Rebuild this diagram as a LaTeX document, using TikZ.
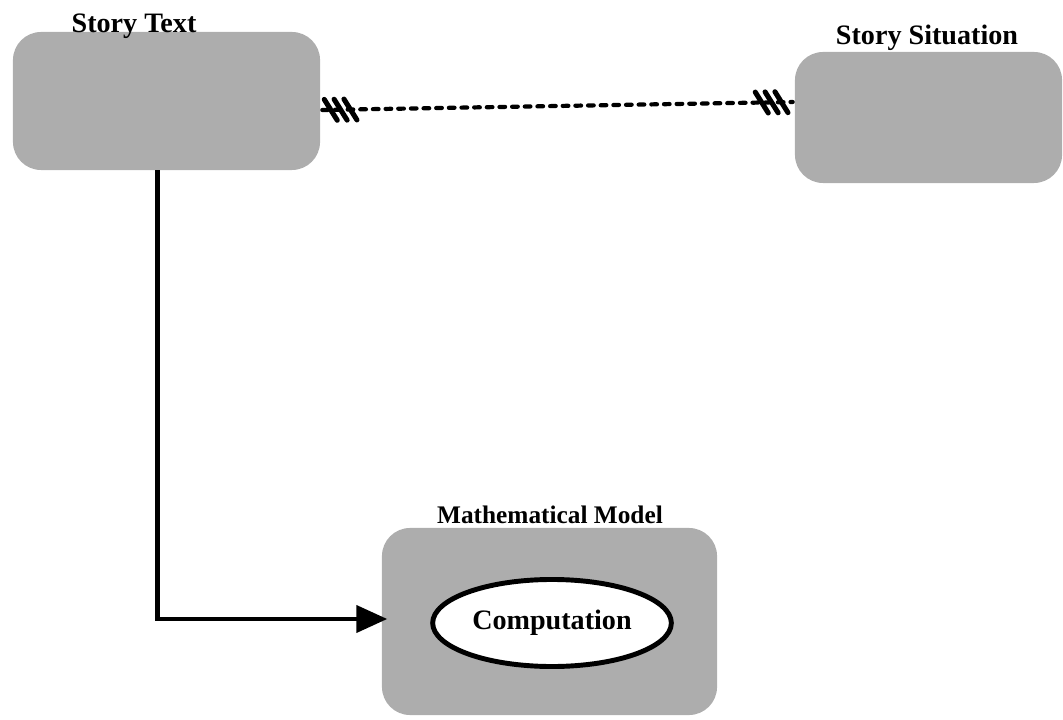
\documentclass[tikz,border=0pt]{standalone}
\usepackage{fontspec}
\setmainfont{Liberation Serif}
\usetikzlibrary{arrows.meta,calc,decorations.markings,shapes.geometric}
\begin{document}
\begin{tikzpicture}[x=0.025cm,y=-0.025cm,
  shade box/.style={draw=none,fill=black!32,rounded corners=20pt,inner sep=0pt},
  lbl/.style={font=\bfseries\fontsize{20}{24}\selectfont,inner sep=0pt,anchor=base},
  hatchend/.style={postaction={decorate,decoration={markings,
     mark=at position 6pt with {\foreach \d in {0,7,14}{\draw[solid,line width=3.6pt,line cap=round] (\d pt-4.5pt,7.5pt)--(\d pt+4.5pt,-7.5pt);}},
     mark=at position 1 with {\foreach \d in {-22,-15,-8}{\draw[solid,line width=3.6pt,line cap=round] (\d pt-4.5pt,7.5pt)--(\d pt+4.5pt,-7.5pt);}}}}},
  dashlink/.style={line width=3pt,line cap=round,dash pattern=on 4pt off 5pt},
  flowlink/.style={line width=3.4pt,-{Triangle[length=22pt,width=19pt]}}]
\useasboundingbox (0,0) rectangle (1063,720);
% boxes
\node[shade box,minimum width=7.675cm,minimum height=3.45cm] (st) at (166.5,101) {};
\node[shade box,minimum width=6.675cm,minimum height=3.275cm] (ss) at (928.5,117.5) {};
\node[shade box,minimum width=8.375cm,minimum height=4.675cm] (mm) at (549.5,621.5) {};
\node[ellipse,draw,line width=3.5pt,fill=white,minimum width=5.75cm,minimum height=2.175cm,
      font=\bfseries\fontsize{20}{24}\selectfont] (comp) at (552,623) {Computation};
% labels
\node[lbl] (stl) at (134,33) {Story Text};
\node[lbl] (ssl) at (927,45) {Story Situation};
\node[lbl,font=\bfseries\fontsize{18}{22}\selectfont] (mml) at (550,523) {Mathematical Model};
% connectors
\draw[dashlink,hatchend] ($(st.east)+(2,9)$) -- ($(ss.west)+(-2,-15.5)$);
\draw[flowlink,shorten >=-4pt] ($(st.south)+(-9,0)$) |- ($(mm.west)+(0,-2.5)$);
\end{tikzpicture}
\end{document}
